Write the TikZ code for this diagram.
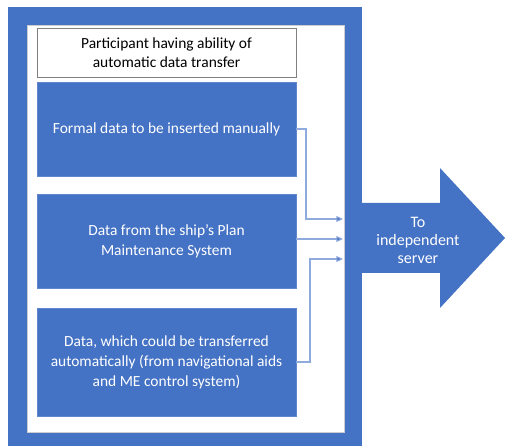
\documentclass[tikz,border=0pt]{standalone}
\usepackage{fontspec}
\setmainfont{Carlito}
\usetikzlibrary{arrows.meta}
\definecolor{officeblue}{HTML}{4472C4}
\definecolor{linkblue}{HTML}{8FAADC}
\definecolor{framegray}{HTML}{7F7F7F}
\begin{document}
\begin{tikzpicture}[x=0.75pt,y=-0.75pt,
  bluebox/.style={fill=officeblue,draw=officeblue!85!white,line width=0.6pt},
  boxtext/.style={text=white,font=\fontsize{11.6}{15}\selectfont,align=center},
  link/.style={draw=linkblue,line width=0.8pt,-{Triangle[length=5pt,width=4.5pt,fill=officeblue]}}]
  \useasboundingbox[fill=white] (0,0) rectangle (506,448);
  % outer participant frame
  \fill[officeblue] (8,7) rectangle (362,446);
  \fill[white,draw=framegray!40,line width=0.4pt] (27,25) rectangle (344,432);
  % arrow towards the server
  \fill[officeblue] (362,203) -- (440,203) -- (440,168) -- (505,238)
     -- (440,308) -- (440,273) -- (362,273) -- cycle;
  \node[text=white,font=\fontsize{12}{13.5}\selectfont,align=center] (server) at (418,240)
     {To\\independent\\server};
  % title box
  \node[draw=framegray,line width=0.6pt,fill=white,minimum width=259*0.75pt,
        minimum height=49*0.75pt,inner sep=0pt,align=center,
        font=\fontsize{11.6}{13.8}\selectfont] (title) at (166.5,52.5)
     {Participant having ability of\\automatic data transfer};
  % data source boxes
  \node[bluebox,minimum width=259*0.75pt,minimum height=94*0.75pt,inner sep=0pt] (manual) at (166.5,129) {};
  \node[boxtext] at (manual.center) {Formal data to be inserted manually};
  \node[bluebox,minimum width=259*0.75pt,minimum height=94*0.75pt,inner sep=0pt] (pms) at (166.5,241) {};
  \node[boxtext] at (pms.center) {Data from the ship’s Plan\\Maintenance System};
  \node[bluebox,minimum width=259*0.75pt,minimum height=108*0.75pt,inner sep=0pt] (auto) at (166.5,362) {};
  \node[boxtext] at (auto.center) {Data, which could be transferred\\automatically (from navigational aids\\and ME control system)};
  % connector end points on the frame
  \coordinate (in1) at (343,219);
  \coordinate (in2) at (343,239);
  \coordinate (in3) at (343,259);
  \draw[link] (manual.east) -- (306,129) -- (306,219) -- (in1);
  \draw[link] (pms.east |- in2) -- (in2);
  \draw[link] (auto.east) -- (310,362) -- (310,259) -- (in3);
\end{tikzpicture}
\end{document}
